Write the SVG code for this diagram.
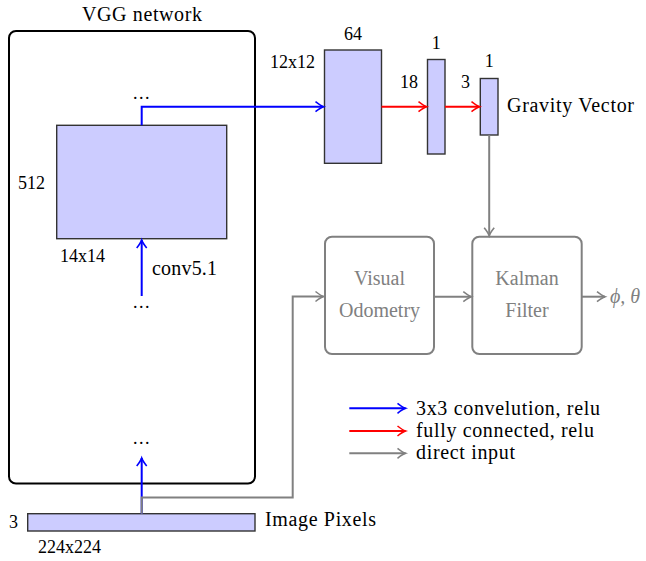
<svg xmlns="http://www.w3.org/2000/svg" width="646" height="561" viewBox="0 0 646 561" font-family="'Liberation Serif', 'DejaVu Serif', serif">
<style>
text{font-family:'Liberation Serif','DejaVu Serif',serif;fill:#000}
.lab{font-size:18px}
.big{font-size:20px}
.g{fill:#808080}
.layer{fill:#ccccff;stroke:#333;stroke-width:1.4}
.gbox{fill:#fff;stroke:#808080;stroke-width:2}
.blue{stroke:#0000ff;stroke-width:2;fill:none}
.red{stroke:#ff0000;stroke-width:2;fill:none}
.gray{stroke:#808080;stroke-width:2;fill:none}
.dots{font-size:18px;letter-spacing:1.5px}
</style>
<defs>
<marker id="ab" markerUnits="userSpaceOnUse" viewBox="-9 -6 10 12" refX="0" refY="0" markerWidth="10" markerHeight="12" orient="auto" overflow="visible">
<path d="M-8,-5 Q-3,-1 0,0 Q-3,1 -8,5" fill="none" stroke="#0000ff" stroke-width="1.6"/>
</marker>
<marker id="ar" markerUnits="userSpaceOnUse" viewBox="-9 -6 10 12" refX="0" refY="0" markerWidth="10" markerHeight="12" orient="auto" overflow="visible">
<path d="M-8,-5 Q-3,-1 0,0 Q-3,1 -8,5" fill="none" stroke="#ff0000" stroke-width="1.6"/>
</marker>
<marker id="ag" markerUnits="userSpaceOnUse" viewBox="-9 -6 10 12" refX="0" refY="0" markerWidth="10" markerHeight="12" orient="auto" overflow="visible">
<path d="M-8,-5 Q-3,-1 0,0 Q-3,1 -8,5" fill="none" stroke="#808080" stroke-width="1.6"/>
</marker>
</defs>

<g id="vgg">
<rect x="9" y="31" width="246" height="452.5" rx="7" fill="none" stroke="#000" stroke-width="2"/>
<text class="big" x="142" y="21" text-anchor="middle" textLength="120" lengthAdjust="spacing">VGG network</text>
<text class="dots" x="142" y="99" text-anchor="middle">...</text>
<text class="dots" x="142" y="308" text-anchor="middle">...</text>
<text class="dots" x="142" y="444" text-anchor="middle">...</text>
</g>

<g id="conv5">
<rect class="layer" x="56.7" y="125.3" width="170" height="113.4"/>
<text class="lab" x="18" y="189">512</text>
<text class="lab" x="60" y="262">14x14</text>
<text class="big" x="152" y="275" textLength="65" lengthAdjust="spacing">conv5.1</text>
</g>

<g id="conv64">
<rect class="layer" x="324.5" y="50" width="57" height="113.3"/>
<text class="lab" x="353" y="40" text-anchor="middle">64</text>
<text class="lab" x="270" y="68">12x12</text>
</g>

<g id="fc1">
<rect class="layer" x="427.5" y="59.5" width="17.5" height="94.5"/>
<text class="lab" x="436.3" y="49" text-anchor="middle">1</text>
<text class="lab" x="400" y="88">18</text>
</g>

<g id="fc2">
<rect class="layer" x="480.3" y="78.5" width="17.7" height="56.5"/>
<text class="lab" x="489.2" y="67" text-anchor="middle">1</text>
<text class="lab" x="461" y="88">3</text>
<text class="big" x="507" y="111.5" textLength="127" lengthAdjust="spacing">Gravity Vector</text>
</g>

<g id="visual-odometry">
<rect class="gbox" x="325" y="236.7" width="109" height="117.3" rx="7"/>
<text class="big g" x="379.5" y="285" text-anchor="middle">Visual</text>
<text class="big g" x="379.5" y="317" text-anchor="middle">Odometry</text>
</g>

<g id="kalman">
<rect class="gbox" x="472.3" y="236.7" width="109.4" height="117.3" rx="7"/>
<text class="big g" x="527" y="285" text-anchor="middle">Kalman</text>
<text class="big g" x="527" y="317" text-anchor="middle">Filter</text>
</g>

<g id="output">
<text class="big g" x="610" y="303" font-style="italic">ϕ, θ</text>
</g>

<g id="image">
<rect class="layer" x="27.7" y="513.7" width="227.3" height="17.3"/>
<text class="lab" x="9" y="528">3</text>
<text class="lab" x="38" y="553">224x224</text>
<text class="big" x="265" y="526" textLength="111" lengthAdjust="spacing">Image Pixels</text>
</g>

<g id="connectors">
<path class="blue" d="M141.7,513.7 V458" marker-end="url(#ab)"/>
<path class="gray" d="M141.7,513.7 V497.5 H292.7 V296.5 H323.5" marker-end="url(#ag)"/>
<path class="blue" d="M141.7,296 V240" marker-end="url(#ab)"/>
<path class="blue" d="M141.7,125.3 V106.7 H323.5" marker-end="url(#ab)"/>
<path class="red" d="M381.5,106.7 H426.5" marker-end="url(#ar)"/>
<path class="red" d="M445,106.7 H479.5" marker-end="url(#ar)"/>
<path class="gray" d="M489.2,135 V235.7" marker-end="url(#ag)"/>
<path class="gray" d="M434,296.7 H471.3" marker-end="url(#ag)"/>
<path class="gray" d="M581.7,296.7 H605" marker-end="url(#ag)"/>
</g>

<g id="legend">
<path class="blue" d="M349.3,408.3 H405.5" marker-end="url(#ab)"/>
<path class="red" d="M349.3,431 H405.5" marker-end="url(#ar)"/>
<path class="gray" d="M349.3,453.3 H405.5" marker-end="url(#ag)"/>
<text class="big" x="416" y="415" textLength="184" lengthAdjust="spacing">3x3 convelution, relu</text>
<text class="big" x="416" y="437" textLength="178" lengthAdjust="spacing">fully connected, relu</text>
<text class="big" x="416" y="459" textLength="99" lengthAdjust="spacing">direct input</text>
</g>
</svg>
